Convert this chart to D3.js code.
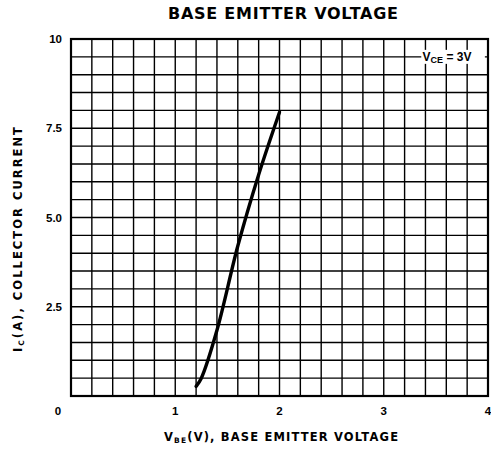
<!DOCTYPE html>
<meta charset="utf-8">
<style>
  body { margin: 0; background: #fff; }
  text { font-family: "Liberation Sans", Arial, sans-serif; font-weight: bold; fill: #000; }
  .title { font-family: "DejaVu Sans", sans-serif; }
  .grid line { stroke: #000; stroke-width: 1.4px; }
</style>
<script src="https://d3js.org/d3.v7.min.js"></script>
<div id="chart"></div>
<script>
// values
var vbe = [1.2, 1.25, 1.4, 1.6, 1.8, 2.0];
var ic = [0.27, 0.5, 1.84, 4.2, 6.2, 7.95];
var xTicks = [1, 2, 3, 4];
var yTicks = [2.5, 5.0, 7.5, 10];
var yTickLabels = ["2.5", "5.0", "7.5", "10"];

var width = 491, height = 449;
var plotL = 71, plotR = 488, plotT = 39, plotB = 396;

var svg = d3.select("#chart").append("svg")
    .attr("width", width)
    .attr("height", height);

var x = d3.scaleLinear().domain([0, 4]).range([plotL, plotR]);
var y = d3.scaleLinear().domain([0, 10]).range([plotB, plotT]);

// grid, 0.2 V by 0.5 A
var grid = svg.append("g").attr("class", "grid");
grid.selectAll(".v")
    .data(d3.range(1, 20).map(function(i) { return i * 0.2; }))
  .enter().append("line")
    .attr("x1", d => x(d)).attr("x2", d => x(d))
    .attr("y1", plotT).attr("y2", plotB);
grid.selectAll(".h")
    .data(d3.range(1, 20).map(function(i) { return i * 0.5; }))
  .enter().append("line")
    .attr("x1", plotL).attr("x2", plotR)
    .attr("y1", d => y(d)).attr("y2", d => y(d));

svg.append("rect")
    .attr("x", plotL).attr("y", plotT)
    .attr("width", plotR - plotL).attr("height", plotB - plotT)
    .attr("fill", "none").attr("stroke", "#000").attr("stroke-width", 2.2);

// legend box
svg.append("rect")
    .attr("x", x(3.36)).attr("y", y(9.5) - 7)
    .attr("width", x(3.97) - x(3.36)).attr("height", 14)
    .attr("fill", "#fff");
var leg = svg.append("text")
    .attr("x", 447).attr("y", y(9.5) + 4)
    .attr("text-anchor", "middle")
    .style("font-size", "12px");
leg.append("tspan").text("V");
leg.append("tspan").attr("dy", 2).style("font-size", "9px").text("CE");
leg.append("tspan").attr("dy", -2).text(" = 3V");

// curve
var line = d3.line()
    .x((d, i) => x(vbe[i]))
    .y(d => y(d))
    .curve(d3.curveCatmullRom.alpha(0.5));
svg.append("path")
    .datum(ic)
    .attr("d", line)
    .attr("fill", "none")
    .attr("stroke", "#000")
    .attr("stroke-width", 3.4)
    .attr("stroke-linecap", "round");

// tick labels
svg.selectAll(".xt")
    .data(xTicks)
  .enter().append("text")
    .attr("x", d => x(d)).attr("y", 415)
    .attr("text-anchor", "middle")
    .style("font-size", "11.5px")
    .text(d => d);
svg.append("text")
    .attr("x", 58).attr("y", 415)
    .attr("text-anchor", "middle")
    .style("font-size", "11.5px")
    .text("0");
svg.selectAll(".yt")
    .data(yTicks)
  .enter().append("text")
    .attr("x", 62).attr("y", d => y(d) + 4)
    .attr("text-anchor", "end")
    .style("font-size", "11.5px")
    .text((d, i) => yTickLabels[i]);

// title
svg.append("text")
    .attr("class", "title")
    .attr("x", 168).attr("y", 19)
    .attr("textLength", 230)
    .attr("lengthAdjust", "spacing")
    .style("font-size", "16px")
    .text("BASE EMITTER VOLTAGE");

// x axis title
var xt = svg.append("text")
    .attr("class", "title")
    .attr("x", 164).attr("y", 441)
    .attr("textLength", 234)
    .attr("lengthAdjust", "spacing")
    .style("font-size", "11.5px");
xt.append("tspan").text("V");
xt.append("tspan").attr("dy", 2).style("font-size", "7.5px").text("BE");
xt.append("tspan").attr("dy", -2).text("(V), BASE EMITTER VOLTAGE");

// y axis title
var yt = svg.append("text")
    .attr("class", "title")
    .attr("transform", "translate(22,352) rotate(-90)")
    .attr("textLength", 225)
    .attr("lengthAdjust", "spacing")
    .style("font-size", "11.5px");
yt.append("tspan").text("I");
yt.append("tspan").attr("dy", 2).style("font-size", "7.5px").text("C");
yt.append("tspan").attr("dy", -2).text("(A), COLLECTOR CURRENT");
</script>
